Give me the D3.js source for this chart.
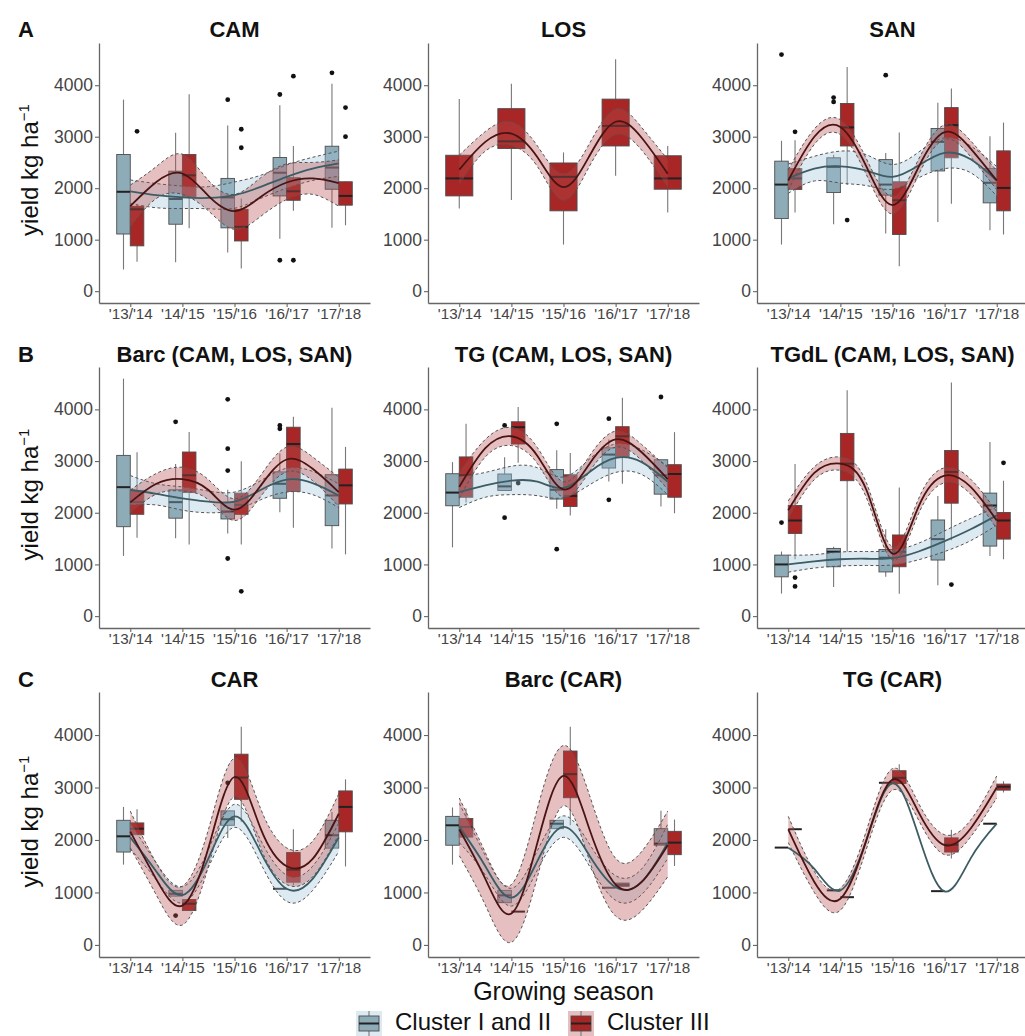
<!DOCTYPE html>
<html>
<head>
<meta charset="utf-8">
<script src="https://cdn.jsdelivr.net/npm/d3@7"></script>
<style>
  body { margin: 0; background: #fff; }
  text { font-family: "Liberation Sans", Arial, sans-serif; }
</style>
</head>
<body>
<div id="chart"></div>
<script>
// ---- data ------------------------------------------------------------
const seasons = ["'13/'14", "'14/'15", "'15/'16", "'16/'17", "'17/'18"];
const fitX = [1, 1.5, 2, 2.5, 3, 3.5, 4, 4.5, 5];   // where the smooth was read
const yTicks = [0, 1000, 2000, 3000, 4000];
const panelTitles = ["CAM", "LOS", "SAN",
  "Barc (CAM, LOS, SAN)", "TG (CAM, LOS, SAN)", "TGdL (CAM, LOS, SAN)",
  "CAR", "Barc (CAR)", "TG (CAR)"];
const rowLetters = ["A", "B", "C"];
const clusterNames = ["Cluster I and II", "Cluster III"];

// box stats per season: [low whisker, q1, median, q3, high whisker]
// outliers: [season index 1-5, value]; band: [lower, upper] at fitX

// CAM
const camBoxC12 = [[420,1110,1930,2655,3720],[560,1300,1790,2330,3075],[750,1230,1820,2190,3220],[1020,1850,2300,2595,3610],[1230,1980,2400,2815,4030]];
const camBoxC3 = [[570,880,1590,1650,1700],[1220,1830,2250,2655,3825],[440,975,1250,1590,1800],[1560,1765,1940,2205,2820],[1280,1670,1850,2125,2130]];
const camOutC12 = [[3,3720],[4,3820],[4,600],[5,4240]];
const camOutC3 = [[1,3105],[3,3145],[3,2785],[4,4175],[4,600],[5,3565],[5,3000]];
const camFitC12 = [1940,1865,1820,1810,1865,2025,2220,2380,2480];
const camBandC12 = [[1700,2160],[1620,2090],[1605,2040],[1600,2030],[1610,2120],[1800,2250],[2000,2450],[2150,2600],[2230,2720]];
const camFitC3 = [1650,2120,2285,1850,1555,1830,2110,2190,2100];
const camBandC3 = [[1250,2060],[1800,2420],[1880,2660],[1560,2150],[1200,1880],[1450,2200],[1780,2470],[1880,2500],[1650,2550]];

// LOS (cluster III only)
const losBoxC3 = [[1605,1850,2190,2640,3730],[1770,2770,2910,3545,4030],[905,1560,2220,2490,2695],[2240,2820,3210,3730,4505],[1530,1980,2190,2630,2820]];
const losFitC3 = [2360,2900,3060,2600,2020,2630,3290,2980,2280];
const losBandC3 = [[2080,2640],[2720,3100],[2830,3290],[2420,2820],[1760,2280],[2430,2870],[3040,3540],[2740,3180],[2020,2560]];

// SAN
const sanBoxC12 = [[905,1410,2070,2525,2920],[1300,1915,2415,2590,2650],[1120,1865,2070,2555,2685],[1345,2335,2900,3160,3660],[1185,1715,2105,2380,3010]];
const sanBoxC3 = [[1530,1975,2190,2380,2930],[2060,2820,3180,3645,4355],[485,1100,1765,2125,3080],[1700,2590,3225,3565,3935],[1100,1560,2005,2725,3275]];
const sanOutC12 = [[1,4595],[2,3760],[2,3675],[3,4195]];
const sanOutC3 = [[1,3095],[2,1380]];
const sanFitC12 = [2190,2380,2425,2340,2220,2440,2685,2560,2150];
const sanBandC12 = [[1900,2470],[2140,2620],[2100,2720],[2050,2650],[1980,2460],[2200,2700],[2380,2980],[2300,2820],[1850,2420]];
const sanFitC3 = [2150,3000,3190,2420,1670,2410,3090,2770,2150];
const sanBandC3 = [[1960,2360],[2850,3150],[3040,3330],[2260,2570],[1500,1840],[2260,2560],[2950,3230],[2610,2920],[1970,2340]];

// Barc (CAM, LOS, SAN)
const barcBoxC12 = [[1165,1730,2495,3110,4595],[1505,1895,2205,2445,2945],[1600,1880,2025,2205,2445],[2010,2280,2560,2790,3145],[1310,1750,2335,2735,4030]];
const barcBoxC3 = [[1515,1970,2205,2425,3170],[1385,2390,2725,3175,3560],[1385,1970,2150,2380,2995],[1710,2410,3330,3655,3855],[1195,2170,2530,2845,3275]];
const barcOutC12 = [[2,3760],[3,4195],[3,3240],[3,2815],[3,1115],[4,3690],[4,3625]];
const barcOutC3 = [[3,480]];
const barcFitC12 = [2445,2365,2280,2215,2215,2440,2640,2575,2335];
const barcBandC12 = [[2150,2720],[2150,2560],[2050,2500],[2000,2420],[2050,2400],[2250,2620],[2400,2860],[2350,2800],[2100,2560]];
const barcFitC3 = [2200,2560,2650,2440,2060,2520,3030,2850,2400];
const barcBandC3 = [[1990,2440],[2360,2760],[2420,2880],[2250,2640],[1850,2270],[2310,2720],[2790,3270],[2620,3080],[2120,2690]];

// TG (CAM, LOS, SAN)
const tgBoxC12 = [[1330,2135,2390,2755,2980],[2431,2431,2510,2750,3075],[2075,2265,2445,2835,3210],[2605,2865,3125,3255,3415],[2120,2360,2725,3025,3025]];
const tgBoxC3 = [[2200,2300,2725,3080,3720],[2965,3330,3655,3760,4045],[1945,2120,2325,2735,3155],[2560,3080,3480,3665,4225],[1990,2300,2750,2930,3560]];
const tgOutC12 = [[2,3690],[2,1905],[3,3720],[3,1295],[4,3820],[4,2250],[5,4240]];
const tgOutC3 = [[2,2575]];
const tgFitC12 = [2400,2530,2620,2600,2480,2790,3060,2980,2600];
const tgBandC12 = [[2100,2700],[2300,2780],[2350,2900],[2330,2870],[2290,2690],[2540,3040],[2780,3330],[2740,3220],[2350,2900]];
const tgFitC3 = [2500,3250,3480,3100,2450,2950,3420,3170,2650];
const tgBandC3 = [[2280,2780],[3080,3420],[3300,3650],[2950,3260],[2300,2600],[2800,3100],[3270,3580],[3010,3320],[2450,2870]];

// TGdL (CAM, LOS, SAN)
const tgdlBoxC12 = [[435,760,1000,1180,1250],[565,955,1245,1310,1340],[760,855,1130,1290,1680],[595,1085,1490,1860,2325],[1165,1355,2140,2380,3370]];
const tgdlBoxC3 = [[1100,1600,1850,2140,2945],[1245,2620,2950,3535,4370],[435,955,1245,1570,2490],[1470,2185,2790,3205,4520],[1100,1490,1850,2005,2620]];
const tgdlOutC12 = [[1,1810]];
const tgdlOutC3 = [[1,745],[1,575],[4,610],[5,2965]];
const tgdlFitC12 = [1000,1060,1100,1110,1120,1250,1450,1680,1950];
const tgdlBandC12 = [[850,1180],[930,1190],[970,1240],[980,1250],[990,1270],[1090,1410],[1250,1650],[1460,1890],[1760,2110]];
const tgdlFitC3 = [2050,2770,2950,2440,1210,2120,2720,2500,1850];
const tgdlBandC3 = [[1890,2230],[2640,2890],[2820,3080],[2290,2580],[1090,1340],[1980,2270],[2580,2870],[2360,2650],[1690,2020]];

// CAR
const carBoxC12 = [[1530,1770,2070,2375,2630],[930,930,975,1040,1040],[2040,2280,2395,2555,2555],[1070,1070,1070,1070,1070],[1845,1845,2090,2375,2535]];
const carBoxC3 = [[2100,2100,2215,2325,2585],[655,655,785,865,865],[2345,2775,3190,3635,4160],[1135,1195,1435,1760,2205],[1495,2155,2630,2935,3155]];
const carOutC12 = [[2,560],[3,3090]];
const carOutC3 = [];
const carFitC12 = [2050,1400,950,1650,2450,1770,1070,1260,2050];
const carBandC12 = [[1830,2330],[1240,1560],[800,1110],[1480,1820],[2240,2680],[1560,2000],[830,1330],[1040,1500],[1780,2320]];
const carFitC3 = [2160,1250,750,1850,3200,2220,1500,1640,2500];
const carBandC3 = [[1850,2550],[950,1560],[380,1120],[1500,2200],[2820,3560],[1850,2600],[1150,1850],[1300,1980],[2100,2880]];

// Barc (CAR)
const bcarBoxC12 = [[1530,1900,2280,2450,2620],[805,805,945,1040,1040],[2215,2215,2310,2375,2375],[1090,1090,1090,1090,1090],[1900,1900,1930,2215,2555]];
const bcarBoxC3 = [[2055,2055,2250,2410,2600],[635,635,635,635,635],[2280,2805,3255,3695,4160],[1115,1115,1145,1180,1180],[1505,1720,1950,2165,2390]];
const bcarOutC12 = [];
const bcarOutC3 = [];
const bcarFitC12 = [2250,1500,900,1600,2250,1700,1100,1200,1950];
const bcarBandC12 = [[1950,2700],[1330,1700],[740,1080],[1430,1800],[2050,2460],[1500,1920],[850,1320],[960,1450],[1650,2300]];
const bcarFitC3 = [2200,1260,600,1950,3220,2200,1150,1200,1900];
const bcarBandC3 = [[1700,2800],[760,1760],[50,1150],[1300,2600],[2650,3800],[1600,2850],[550,1650],[650,1780],[1300,2550]];

// TG (CAR) - cluster I and II has one value per season, so no band
const tgcBoxC12 = [[1855,1855,1855,1855,1855],[1040,1040,1040,1040,1040],[3090,3090,3090,3090,3090],[1025,1025,1025,1025,1025],[2310,2310,2310,2310,2310]];
const tgcBoxC3 = [[2205,2205,2205,2205,2205],[910,910,910,910,910],[3075,3075,3185,3320,3445],[1645,1770,1910,2040,2195],[2905,2950,3015,3065,3120]];
const tgcFitC12 = [1850,1450,1040,2000,3080,2080,1020,1650,2310];
const tgcFitC3 = [2200,1200,880,2000,3150,2530,1900,2220,3000];
const tgcBandC3 = [[1950,2450],[1000,1400],[660,1080],[1830,2180],[2950,3360],[2380,2700],[1720,2100],[2060,2380],[2800,3220]];

// ---- layout ----------------------------------------------------------
const width = 1025, height = 1036;
const colLeft = [99, 428, 757], panelW = 271;
const rows = [{ top: 43, bottom: 303 }, { top: 367, bottom: 628 }, { top: 692, bottom: 957 }];
const titleY = [37, 362, 687];

const col12 = { box: "#8eabb8", band: "#9dc3d8", line: "#3d5c63" };
const col3 = { box: "#a82626", band: "#b84a4a", line: "#4a1414" };

const cl = (box, out, fit, band) => box ? { box, out, fit, band } : null;
const panels = [
  [cl(camBoxC12, camOutC12, camFitC12, camBandC12), cl(camBoxC3, camOutC3, camFitC3, camBandC3)],
  [null, cl(losBoxC3, [], losFitC3, losBandC3)],
  [cl(sanBoxC12, sanOutC12, sanFitC12, sanBandC12), cl(sanBoxC3, sanOutC3, sanFitC3, sanBandC3)],
  [cl(barcBoxC12, barcOutC12, barcFitC12, barcBandC12), cl(barcBoxC3, barcOutC3, barcFitC3, barcBandC3)],
  [cl(tgBoxC12, tgOutC12, tgFitC12, tgBandC12), cl(tgBoxC3, tgOutC3, tgFitC3, tgBandC3)],
  [cl(tgdlBoxC12, tgdlOutC12, tgdlFitC12, tgdlBandC12), cl(tgdlBoxC3, tgdlOutC3, tgdlFitC3, tgdlBandC3)],
  [cl(carBoxC12, carOutC12, carFitC12, carBandC12), cl(carBoxC3, carOutC3, carFitC3, carBandC3)],
  [cl(bcarBoxC12, bcarOutC12, bcarFitC12, bcarBandC12), cl(bcarBoxC3, bcarOutC3, bcarFitC3, bcarBandC3)],
  [cl(tgcBoxC12, [], tgcFitC12, null), cl(tgcBoxC3, [], tgcFitC3, tgcBandC3)]
];

const svg = d3.select("#chart")
  .append("svg")
  .attr("width", width)
  .attr("height", height)
  .attr("viewBox", [0, 0, width, height]);

panels.forEach((clusters, i) => {
  const row = Math.floor(i / 3), col = i % 3;
  const left = colLeft[col];
  const { top, bottom } = rows[row];

  let x = d3.scaleLinear().domain([0.4, 5.6]).range([left, left + panelW]);
  let y = d3.scaleLinear().domain([-230, 4820]).range([bottom, top]);

  const g = svg.append("g");

  // axes
  const xAxis = g.append("g")
    .attr("transform", `translate(0,${bottom})`)
    .call(d3.axisBottom(x).tickValues([1, 2, 3, 4, 5]).tickFormat(d => seasons[d - 1])
      .tickSize(4).tickSizeOuter(0).tickPadding(1));
  const yAxis = g.append("g")
    .attr("transform", `translate(${left},0)`)
    .call(d3.axisLeft(y).tickValues(yTicks).tickFormat(d => d)
      .tickSize(4).tickSizeOuter(0).tickPadding(2));
  for (let ax of [xAxis, yAxis]) {
    ax.select(".domain").attr("stroke", "#666").attr("stroke-width", 1.3);
    ax.selectAll(".tick line").attr("stroke", "#666").attr("stroke-width", 1.1);
    ax.selectAll(".tick text").attr("fill", "#444");
  }
  xAxis.selectAll(".tick text").style("font-size", "15.2px");
  yAxis.selectAll(".tick text").style("font-size", "17.5px");

  // boxplots
  const both = clusters[0] && clusters[1];
  clusters.forEach((c, k) => {
    if (!c) return;
    const colr = k === 0 ? col12 : col3;
    const off = both ? (k === 0 ? -0.13 : 0.13) : 0;
    const hw = both ? 0.13 : 0.26;
    c.box.forEach((s, j) => {
      const cx = x(j + 1 + off);
      g.append("line")
        .attr("x1", cx).attr("x2", cx)
        .attr("y1", y(s[0])).attr("y2", y(s[4]))
        .attr("stroke", "#777").attr("stroke-width", 1.1);
      g.append("rect")
        .attr("x", x(j + 1 + off - hw))
        .attr("width", x(j + 1 + off + hw) - x(j + 1 + off - hw))
        .attr("y", y(s[3]))
        .attr("height", y(s[1]) - y(s[3]))
        .attr("fill", colr.box)
        .attr("stroke", "#4d4d4d")
        .attr("stroke-width", 0.9);
      g.append("line")
        .attr("x1", x(j + 1 + off - hw)).attr("x2", x(j + 1 + off + hw))
        .attr("y1", y(s[2])).attr("y2", y(s[2]))
        .attr("stroke", "#222").attr("stroke-width", 2);
    });
    g.selectAll(null)
      .data(c.out)
      .join("circle")
      .attr("cx", d => x(d[0] + off))
      .attr("cy", d => y(d[1]))
      .attr("r", 2.4)
      .attr("fill", "#111");
  });

  // smooth bands then lines
  const area = d3.area()
    .x((d, j) => x(fitX[j]))
    .y0(d => y(d[0]))
    .y1(d => y(d[1]))
    .curve(d3.curveNatural);
  const edge = d3.line()
    .x(d => x(d[0]))
    .y(d => y(d[1]))
    .curve(d3.curveNatural);

  clusters.forEach((c, k) => {
    if (!c || !c.band) return;
    const colr = k === 0 ? col12 : col3;
    g.append("path")
      .datum(c.band)
      .attr("d", area)
      .attr("fill", colr.band)
      .attr("fill-opacity", 0.35);
    for (let side of [0, 1]) {
      g.append("path")
        .datum(c.band.map((d, j) => [fitX[j], d[side]]))
        .attr("d", edge)
        .attr("fill", "none")
        .attr("stroke", "#555")
        .attr("stroke-width", 1)
        .attr("stroke-dasharray", "3,2.5");
    }
  });
  clusters.forEach((c, k) => {
    if (!c) return;
    const colr = k === 0 ? col12 : col3;
    g.append("path")
      .datum(c.fit.map((v, j) => [fitX[j], v]))
      .attr("d", edge)
      .attr("fill", "none")
      .attr("stroke", colr.line)
      .attr("stroke-width", 1.8);
  });

  // title
  svg.append("text")
    .text(panelTitles[i])
    .attr("x", left + panelW / 2)
    .attr("y", titleY[row])
    .attr("text-anchor", "middle")
    .style("font-size", "22px")
    .style("font-weight", "bold")
    .attr("fill", "#111");

  if (col === 0) {
    svg.append("text")
      .text(rowLetters[row])
      .attr("x", 18)
      .attr("y", titleY[row])
      .style("font-size", "22px")
      .style("font-weight", "bold")
      .attr("fill", "#111");

    const yl = svg.append("text")
      .attr("transform", `translate(38,${(top + bottom) / 2 - 3}) rotate(-90)`)
      .attr("text-anchor", "middle")
      .style("font-size", "24px")
      .attr("fill", "#111");
    yl.append("tspan").text("yield kg ha");
    yl.append("tspan").text("\u22121").attr("dy", -9).style("font-size", "15px");
  }
});

// x title
svg.append("text")
  .text("Growing season")
  .attr("x", colLeft[1] + panelW / 2)
  .attr("y", 1000)
  .attr("text-anchor", "middle")
  .style("font-size", "25px")
  .attr("fill", "#111");

// legend
const legendX = [356, 568];
[col12, col3].forEach((colr, k) => {
  const lx = legendX[k];
  const lg = svg.append("g");
  lg.append("rect").attr("x", lx).attr("y", 1011).attr("width", 26).attr("height", 25)
    .attr("fill", colr.band).attr("fill-opacity", 0.35);
  lg.append("line").attr("x1", lx + 13).attr("x2", lx + 13).attr("y1", 1011).attr("y2", 1036)
    .attr("stroke", "#777").attr("stroke-width", 1.1);
  lg.append("rect").attr("x", lx + 3).attr("y", 1016).attr("width", 20).attr("height", 15)
    .attr("fill", colr.box).attr("stroke", "#4d4d4d").attr("stroke-width", 0.9);
  lg.append("line").attr("x1", lx + 3).attr("x2", lx + 23).attr("y1", 1023.5).attr("y2", 1023.5)
    .attr("stroke", "#222").attr("stroke-width", 2);
  lg.append("text")
    .text(clusterNames[k])
    .attr("x", lx + 39)
    .attr("y", 1030)
    .style("font-size", "24px")
    .attr("fill", "#111");
});
</script>
</body>
</html>
